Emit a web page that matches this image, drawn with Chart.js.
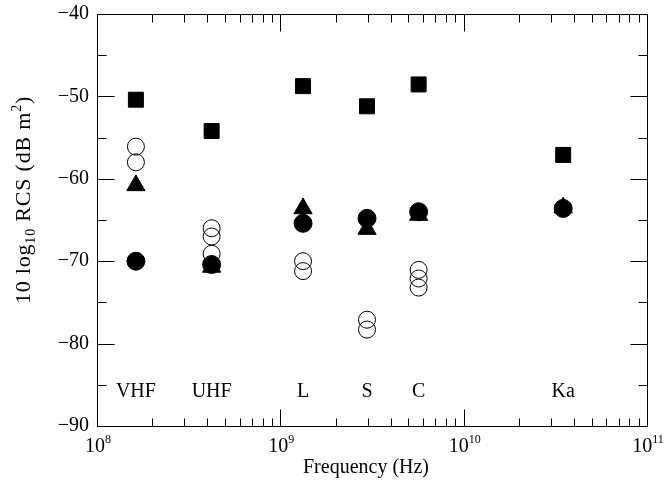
<!DOCTYPE html>
<html><head><meta charset="utf-8">
<script src="https://cdn.jsdelivr.net/npm/chart.js@4/dist/chart.umd.min.js"></script>
<style>html,body{margin:0;padding:0;background:#fff}#wrap{width:664px;height:492px}</style>
</head><body><div id="wrap"><canvas id="c" width="664" height="492"></canvas></div>
<script>
// ---- data ----
const bands = ['VHF', 'UHF', 'L', 'S', 'C', 'Ka'];
const bandFreqHz = [1.63e8, 4.22e8, 1.33e9, 2.97e9, 5.68e9, 3.49e10];
const squareRCS = [-50.4, -54.2, -48.75, -51.2, -48.55, -57.1];
const triangleRCS = [-60.8, -70.7, -63.6, -66.1, -64.4, -63.5];
const filledCircleRCS = [-70.0, -70.4, -65.4, -64.8, -64.0, -63.6];
const openCircleRCS = [[-56.1, -58.0], [-66.0, -67.0, -69.1], [-70.0, -71.2], [-77.1, -78.3], [-71.05, -72.1, -73.2], []];
const bandLabelRCS = -85.8;
const xDecades = [8, 9, 10, 11];
const yMin = -90, yMax = -40;
const xTitle = 'Frequency (Hz)';
const yTitleParts = [['10 log', 0], ['10', 1], [' RCS (dB m', 0], ['2', 2], [')', 0]];

const FONT = "'Liberation Serif','Times New Roman',serif";
const pts = (vals) => bandFreqHz.map((f, i) => ({x: f, y: vals[i]}));
const openPts = [];
openCircleRCS.forEach((arr, i) => arr.forEach(v => openPts.push({x: bandFreqHz[i], y: v})));

const frame = {
  id: 'frame',
  afterDraw(chart) {
    const {ctx, chartArea: a, scales: {x, y}} = chart;
    ctx.save();
    ctx.strokeStyle = '#000'; ctx.lineWidth = 1;
    const L = Math.round(a.left) + 0.5, R = Math.round(a.right) + 0.5;
    const T = Math.round(a.top) + 0.5, B = Math.round(a.bottom) + 0.5;
    ctx.beginPath();
    ctx.rect(L, T, R - L, B - T);
    for (let e = xDecades[0]; e < xDecades[xDecades.length - 1]; e++) {
      for (let m = 1; m <= 9; m++) {
        const px = Math.round(x.getPixelForValue(m * Math.pow(10, e))) + 0.5;
        const len = m === 1 ? 17 : 8;
        ctx.moveTo(px, B); ctx.lineTo(px, B - len);
        ctx.moveTo(px, T); ctx.lineTo(px, T + len);
      }
    }
    for (let v = yMin; v <= yMax; v += 5) {
      const py = Math.round(y.getPixelForValue(v)) + 0.5;
      const len = v % 10 === 0 ? 17 : 9;
      ctx.moveTo(L, py); ctx.lineTo(L + len, py);
      ctx.moveTo(R, py); ctx.lineTo(R - len, py);
    }
    ctx.stroke();

    ctx.fillStyle = '#000';
    xDecades.forEach(e => {
      const px = x.getPixelForValue(Math.pow(10, e));
      ctx.font = '20px ' + FONT;
      const w1 = ctx.measureText('10').width;
      ctx.font = '12px ' + FONT;
      const w2 = ctx.measureText(String(e)).width;
      const start = px - (w1 + w2) / 2 + 1;
      ctx.textAlign = 'left'; ctx.textBaseline = 'alphabetic';
      ctx.font = '20px ' + FONT;
      ctx.fillText('10', start, 452);
      ctx.font = '12px ' + FONT;
      ctx.fillText(String(e), start + w1, 443);
    });
    ctx.font = '20px ' + FONT;
    ctx.textAlign = 'center'; ctx.textBaseline = 'middle';
    bands.forEach((b, i) => {
      ctx.fillText(b, x.getPixelForValue(bandFreqHz[i]), y.getPixelForValue(bandLabelRCS));
    });
    ctx.fillText(xTitle, 366, 468);
    const fonts = ['22px ' + FONT, '14px ' + FONT, '14px ' + FONT];
    const shifts = [0, 5, -9];
    ctx.letterSpacing = '0.8px';
    let total = 0;
    yTitleParts.forEach(([t, k]) => { ctx.font = fonts[k]; total += ctx.measureText(t).width; });
    ctx.translate(30, 200);
    ctx.rotate(-Math.PI / 2);
    ctx.textAlign = 'left'; ctx.textBaseline = 'alphabetic';
    let cx = -total / 2;
    yTitleParts.forEach(([t, k]) => {
      ctx.font = fonts[k];
      ctx.fillText(t, cx, shifts[k]);
      cx += ctx.measureText(t).width;
    });
    ctx.restore();
  }
};

new Chart(document.getElementById('c'), {
  type: 'scatter',
  data: {
    datasets: [
      {label: 'filled circle', data: pts(filledCircleRCS), pointStyle: 'circle', pointRadius: 9,
       backgroundColor: '#000', borderColor: '#000', borderWidth: 1},
      {label: 'triangle', data: pts(triangleRCS), pointStyle: 'triangle', pointRadius: 10.5,
       backgroundColor: '#000', borderColor: '#000', borderWidth: 1},
      {label: 'square', data: pts(squareRCS), pointStyle: 'rect', pointRadius: 10.6,
       backgroundColor: '#000', borderColor: '#000', borderWidth: 1},
      {label: 'open circle', data: openPts, pointStyle: 'circle', pointRadius: 8.5,
       backgroundColor: 'rgba(0,0,0,0)', borderColor: '#000', borderWidth: 1}
    ]
  },
  options: {
    responsive: false, animation: false, devicePixelRatio: 1,
    layout: {padding: {top: 14, right: 17, left: 0, bottom: 0}},
    plugins: {legend: {display: false}, tooltip: {enabled: false}},
    elements: {point: {hoverRadius: 9}},
    scales: {
      x: {type: 'logarithmic', min: 1e8, max: 1e11,
          grid: {display: false, drawTicks: false}, border: {display: false},
          ticks: {display: false},
          afterFit: (s) => { s.height = 66; }},
      y: {type: 'linear', min: yMin, max: yMax,
          grid: {display: false, drawTicks: false}, border: {display: false},
          ticks: {stepSize: 5, padding: 8, color: '#000', font: {family: FONT, size: 20, lineHeight: 0.5},
                  callback: (v) => v % 10 === 0 ? (v < 0 ? '\u2212' + (-v) : String(v)) : ''},
          afterFit: (s) => { s.width = 97; }}
    }
  },
  plugins: [frame]
});
</script>
</body></html>
